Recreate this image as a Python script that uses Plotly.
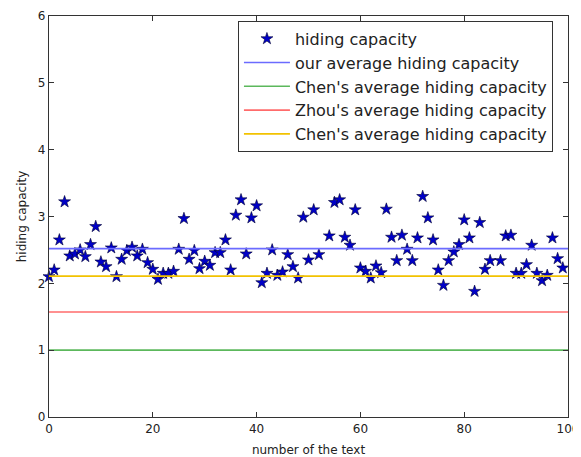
import plotly.graph_objects as go

text_index = list(range(100))
hiding_capacity = [
    2.10, 2.20, 2.65, 3.22, 2.41, 2.44, 2.50, 2.40, 2.58, 2.85,
    2.32, 2.25, 2.53, 2.10, 2.36, 2.49, 2.54, 2.41, 2.51, 2.31,
    2.21, 2.06, 2.15, 2.15, 2.18, 2.51, 2.97, 2.36, 2.49, 2.22,
    2.33, 2.27, 2.46, 2.46, 2.65, 2.20, 3.02, 3.25, 2.44, 2.98,
    3.16, 2.01, 2.15, 2.50, 2.12, 2.17, 2.43, 2.25, 2.08, 2.99,
    2.35, 3.10, 2.43, 4.60, 2.71, 3.21, 3.25, 2.69, 2.57, 3.10,
    2.23, 2.18, 2.08, 2.26, 2.16, 3.11, 2.69, 2.34, 2.72, 2.51,
    2.34, 2.68, 3.30, 2.98, 2.65, 2.20, 1.97, 2.34, 2.47, 2.58,
    2.95, 2.68, 1.88, 2.91, 2.21, 2.34, 4.06, 2.34, 2.71, 2.72,
    2.15, 2.15, 2.28, 2.57, 2.15, 2.04, 2.12, 2.68, 2.37, 2.23,
]

avg_names = ["our average hiding capacity", "Chen's average hiding capacity",
             "Zhou's average hiding capacity", "Chen's average hiding capacity"]
avg_values = [2.52, 1.0, 1.571, 2.108]
avg_colors = ["#6b6bff", "#5cb85c", "#ff6b6b", "#f2c200"]

x_ticks = [0, 20, 40, 60, 80, 100]
y_ticks = [0, 1, 2, 3, 4, 5, 6]

fig = go.Figure()
fig.add_trace(go.Scatter(
    x=text_index, y=hiding_capacity, mode="markers", name="hiding capacity",
    marker=dict(symbol="star", size=9, color="#0000c8",
                line=dict(color="#000033", width=0.6)),
    cliponaxis=False,
))
for name, val, col in zip(avg_names, avg_values, avg_colors):
    fig.add_trace(go.Scatter(
        x=[0, 100], y=[val, val], mode="lines", name=name,
        line=dict(color=col, width=1.6),
    ))

axis_common = dict(
    showline=True, linecolor="#333333", linewidth=1.2, mirror="allticks",
    ticks="inside", ticklen=5, tickcolor="#333333", showgrid=False,
    zeroline=False, automargin=False,
    tickfont=dict(family="DejaVu Sans", size=12, color="#222222"),
)
fig.update_xaxes(range=[0, 100], tickvals=x_ticks, ticklabeloverflow="allow",
                 title=dict(text="number of the text", standoff=11,
                            font=dict(family="DejaVu Sans", size=12, color="#222222")),
                 **axis_common)
fig.update_yaxes(range=[0, 6], tickvals=y_ticks,
                 title=dict(text="hiding capacity", standoff=8,
                            font=dict(family="DejaVu Sans", size=12, color="#222222")),
                 **axis_common)

# the page body has an 8px margin, so margins are shifted to compensate
fig.update_layout(
    width=573, height=457,
    margin=dict(l=41, r=13, t=8, b=48, pad=0),
    plot_bgcolor="white", paper_bgcolor="white",
    font=dict(family="DejaVu Sans"),
    legend=dict(
        x=0.971, y=0.988, xanchor="right", yanchor="top",
        bgcolor="white", bordercolor="#333333", borderwidth=1,
        font=dict(family="DejaVu Sans", size=16, color="#222222"),
        tracegroupgap=0, itemwidth=46,
    ),
)

fig.write_html("out.html")
